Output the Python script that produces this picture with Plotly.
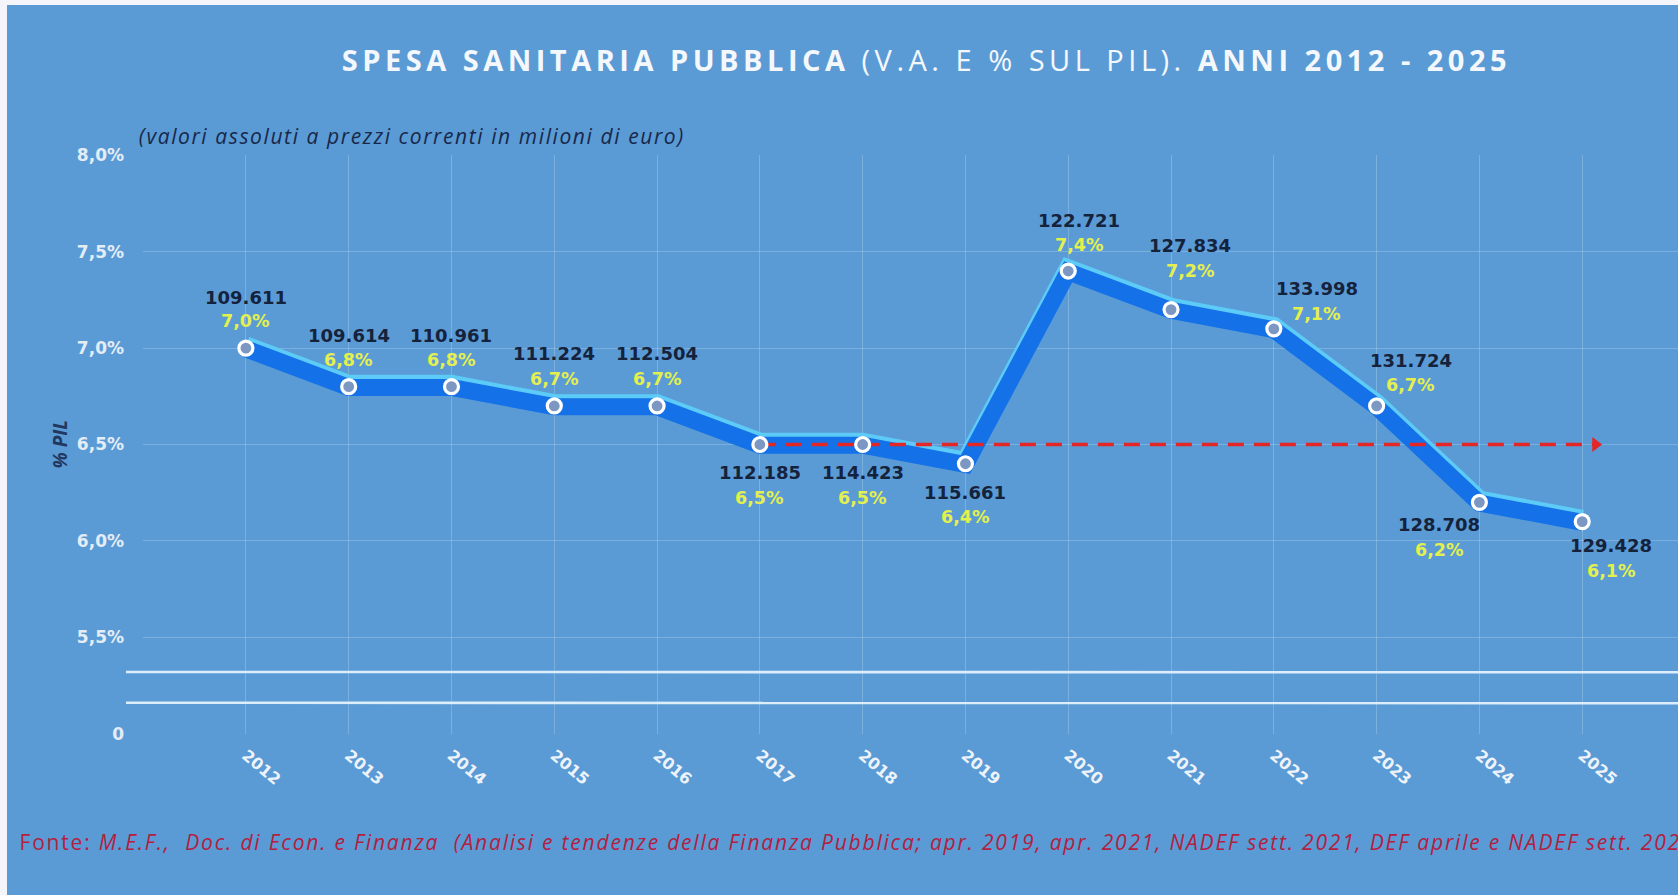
import plotly.graph_objects as go

# ---------------- data ----------------
years = [2012, 2013, 2014, 2015, 2016, 2017, 2018, 2019, 2020, 2021, 2022, 2023, 2024, 2025]
pct_pil = [7.0, 6.8, 6.8, 6.7, 6.7, 6.5, 6.5, 6.4, 7.4, 7.2, 7.1, 6.7, 6.2, 6.1]
spesa_mln = [109611, 109614, 110961, 111224, 112504, 112185, 114423, 115661,
             122721, 127834, 133998, 131724, 128708, 129428]
y_tickvals = [5.0, 5.5, 6.0, 6.5, 7.0, 7.5, 8.0]
y_ticktext = ["0", "5,5%", "6,0%", "6,5%", "7,0%", "7,5%", "8,0%"]

# label placement (pixels): (xshift, yshift value label, yshift pct label)
label_offsets = [(0, 51, 27), (0, 51, 27), (0, 51, 27), (0, 52, 27), (0, 52, 27),
                 (0, -28, -53), (0, -28, -53), (0, -29, -53), (11, 51, 26),
                 (19, 64, 39), (43, 40, 15), (34, 45, 21), (-40, -22, -48), (29, -24, -49)]

BG = "rgb(91,155,213)"
W, H = 1678, 895
ML, MR, MT, MB = 143, 0, 155, 161
PW = W - ML - MR
PH = H - MT - MB

def px_x(px):
    return (px - ML) / PW

def px_y(py):
    return 1 + (MT - py) / PH

fig = go.Figure()

# main band: light top edge + blue band
fig.add_trace(go.Scatter(x=years, y=[v + 0.012 for v in pct_pil], mode="lines",
                         line=dict(color="#5CCBF7", width=19), hoverinfo="skip", showlegend=False))
fig.add_trace(go.Scatter(x=years, y=[v - 0.004 for v in pct_pil], mode="lines",
                         line=dict(color="#1471E8", width=17), hoverinfo="skip", showlegend=False))

# red dashed reference arrow at 2017 level
ref_idx = years.index(2017)
ref_y = pct_pil[ref_idx]
arrow_end = years[-1] + 0.13
fig.add_trace(go.Scatter(x=[years[ref_idx], arrow_end], y=[ref_y, ref_y], mode="lines",
                         line=dict(color="#E32626", width=3.5, dash="16px,10px"),
                         hoverinfo="skip", showlegend=False))
fig.add_trace(go.Scatter(x=[arrow_end], y=[ref_y], mode="markers",
                         marker=dict(symbol="triangle-right", size=13, color="#E32626"),
                         hoverinfo="skip", showlegend=False))

# markers
fig.add_trace(go.Scatter(x=years, y=pct_pil, mode="markers",
                         marker=dict(size=14, color="#7C98C2", line=dict(color="white", width=3.2)),
                         hoverinfo="skip", showlegend=False))

annotations = []
LBL_FONT = "DejaVu Sans"
for yr, p, v, (dx, dyv, dyp) in zip(years, pct_pil, spesa_mln, label_offsets):
    vtxt = f"{v:,}".replace(",", ".")
    ptxt = f"{p:.1f}".replace(".", ",") + "%"
    annotations.append(dict(x=yr, y=p, xref="x", yref="y", text=f"<b>{vtxt}</b>", showarrow=False,
                            xshift=dx, yshift=dyv, font=dict(family=LBL_FONT, size=18, color="#15223C")))
    annotations.append(dict(x=yr, y=p, xref="x", yref="y", text=f"<b>{ptxt}</b>", showarrow=False,
                            xshift=dx, yshift=dyp, font=dict(family=LBL_FONT, size=17.5, color="#E4F04E")))

# title (letter-spaced text is centred, so anchor at centre)
annotations.append(dict(x=px_x(926), y=px_y(59), xref="paper", yref="paper", showarrow=False,
                        xanchor="center", yanchor="middle",
                        text="<b>SPESA SANITARIA PUBBLICA</b> (V.A. E % SUL PIL). <b>ANNI 2012 - 2025</b>",
                        font=dict(family="Open Sans", size=29, color="#F4F8FC")))
# subtitle
annotations.append(dict(x=px_x(412), y=px_y(136), xref="paper", yref="paper", showarrow=False,
                        xanchor="center", yanchor="middle",
                        text="<i>(valori assoluti a prezzi correnti in milioni di euro)</i>",
                        font=dict(family="Open Sans", size=21, color="#18284A")))
# y axis title
annotations.append(dict(x=px_x(44), y=6.5, xref="paper", yref="y", showarrow=False,
                        textangle=-90, text="<b><i>% PIL</i></b>",
                        font=dict(family="Open Sans", size=19, color="#22375E")))
# footer
annotations.append(dict(x=px_x(861), y=px_y(842), xref="paper", yref="paper", showarrow=False,
                        xanchor="center", yanchor="middle",
                        text="Fonte: <i>M.E.F.,\u00a0 Doc. di Econ. e Finanza\u00a0 (Analisi e tendenze della Finanza Pubblica; "
                             "apr. 2019, apr. 2021, NADEF sett. 2021, DEF aprile e NADEF sett. 2022)</i>",
                        font=dict(family="Open Sans", size=21, color="#B3203F")))

shapes = []
# axis break lines
for yb in (5.32, 5.16):
    x0 = px_x(126)
    path = (f"M {x0},{yb} C {0.25},{yb + 0.006} {0.55},{yb - 0.012} {1.0},{yb - 0.002}")
    shapes.append(dict(type="path", xref="paper", yref="y", path=path,
                       line=dict(color="#DCEEFC", width=2.6)))
# light page edges
shapes.append(dict(type="rect", xref="paper", yref="paper", x0=px_x(0), x1=1.0, y0=px_y(5), y1=px_y(0),
                   fillcolor="#F3F5FA", line=dict(width=0), layer="above"))
shapes.append(dict(type="rect", xref="paper", yref="paper", x0=px_x(0), x1=px_x(7), y0=px_y(H), y1=px_y(0),
                   fillcolor="#F3F5FA", line=dict(width=0), layer="above"))

fig.update_layout(
    width=W, height=H, autosize=False,
    margin=dict(l=ML, r=MR, t=MT, b=MB, pad=0),
    paper_bgcolor=BG, plot_bgcolor=BG,
    showlegend=False,
    annotations=annotations, shapes=shapes,
    xaxis=dict(range=[2010.999, 2011 + PW / 102.8], tickvals=[2011] + years,
               ticktext=[""] + ["<b>%s</b>" % y for y in years], tickangle=40,
               tickfont=dict(family=LBL_FONT, size=16, color="#EEF3FA"),
               showgrid=True, gridcolor="rgba(255,255,255,0.20)", gridwidth=1,
               zeroline=False, showline=False, ticks="", ticklabelstandoff=8, fixedrange=True),
    yaxis=dict(range=[4.998, 8.002], tickvals=y_tickvals, ticktext=["<b>%s</b>" % t for t in y_ticktext],
               tickfont=dict(family=LBL_FONT, size=17, color="#E4ECF6"),
               showgrid=True, gridcolor="rgba(255,255,255,0.20)", gridwidth=1,
               zeroline=False, showline=False, ticks="", ticklabelstandoff=18, fixedrange=True),
)

post_js = (
    "document.body.style.margin='0';document.body.style.overflow='hidden';"
    "document.querySelectorAll('text.annotation-text').forEach(t => "
    "(t.textContent.startsWith('SPESA') && (t.style.letterSpacing='4.5px')) || "
    "(t.textContent.startsWith('(valori') && (t.style.letterSpacing='1.6px')) || "
    "(t.textContent.startsWith('Fonte') && (t.style.letterSpacing='1.8px')));"
)
fig.write_html("out.html", config={"displayModeBar": False}, post_script=post_js)
